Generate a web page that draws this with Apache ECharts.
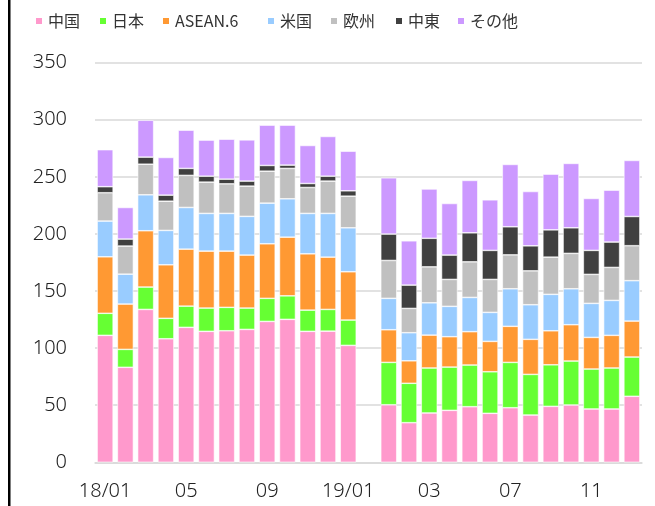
<!DOCTYPE html>
<html><head><meta charset="utf-8">
<script src="https://cdn.jsdelivr.net/npm/echarts@6/dist/echarts.min.js"></script>
<style>html,body{margin:0;padding:0;background:#fff}#c{width:655px;height:506px}</style>
</head><body><div id="c"></div>
<script>
const categories = ['18/01','02','03','04','05','06','07','08','09','10','11','12','19/01','',
  '01','02','03','04','05','06','07','08','09','10','11','12','01'];
const seriesNames = ['中国','日本','ASEAN.6','米国','欧州','中東','その他'];
const china  = [111.2,83.2,133.9,108.2,118.2,114.7,115.2,116.4,123.4,125.2,114.7,114.9,102.4,null,50.4,34.7,43.2,45.5,48.7,42.9,47.8,41.4,49.0,50.2,46.7,46.7,57.8];
const japan  = [19.3,15.7,19.6,17.9,18.6,20.4,20.5,18.7,20.2,20.6,18.6,19.0,22.2,null,37.1,34.5,39.4,37.9,36.5,36.4,39.7,35.6,36.4,38.5,35.0,35.9,34.4];
const asean6 = [49.5,39.7,49.3,46.9,49.9,49.9,49.3,46.4,47.8,51.4,49.3,45.8,42.3,null,28.6,19.7,28.8,26.6,29.2,26.6,31.6,30.7,29.8,31.8,27.7,28.6,31.5];
const usa    = [31.3,26.2,31.5,30.1,36.5,33.0,33.0,33.9,35.6,33.6,35.4,38.3,38.5,null,27.5,24.6,28.3,26.6,30.0,25.4,32.9,30.3,31.9,31.5,29.8,30.6,35.4];
const europe = [24.8,24.6,26.8,25.6,28.1,27.4,25.9,26.5,28.0,26.6,22.7,28.3,27.7,null,33.2,21.3,31.5,23.6,31.2,28.9,29.7,29.7,32.6,31.0,25.4,28.9,30.6];
const mideast= [5.3,6.1,6.2,5.3,6.1,5.2,4.1,4.4,5.0,2.9,3.5,4.3,4.7,null,23.1,20.4,25.0,21.3,25.4,25.4,24.6,21.9,23.9,22.4,21.0,22.2,25.6];
const others = [32.4,27.7,32.3,33.0,33.5,31.6,35.0,36.1,35.3,35.0,33.3,34.8,34.7,null,49.3,38.8,43.2,45.2,45.9,44.3,54.6,47.6,48.8,56.4,45.5,45.5,49.1];
const yTicks = [0,50,100,150,200,250,300,350];

const colors = ['#FF99CC','#66FF33','#FF9933','#99CCFF','#C0C0C0','#404040','#CC99FF'];
const values = [china,japan,asean6,usa,europe,mideast,others];
const legendX = [34,98,161,266,329,394,456];
const font = '"Noto Sans CJK JP","Noto Sans",sans-serif';
const numFont = '"Noto Sans","Noto Sans CJK JP",sans-serif';

const chart = echarts.init(document.getElementById('c'), null, {renderer:'canvas'});
chart.setOption({
  animation:false,
  backgroundColor:'#fff',
  color: colors,
  legend: seriesNames.map((n,i)=>({
    data:[n], left: legendX[i], top: 13, padding:0, itemWidth:8, itemHeight:8, itemGap:5,
    icon:'rect', textStyle:{fontFamily:font, fontSize:16, color:'#333'}, selectedMode:false
  })),
  grid:{left:95, right:13, top:62.7, bottom:43.7, containLabel:false},
  xAxis:{type:'category', data:categories,
    axisLine:{show:true, lineStyle:{color:'#D9D9D9', width:1.5}},
    axisTick:{show:false},
    axisLabel:{interval:3, margin:19, fontFamily:numFont, fontSize:20, fontWeight:300, color:'#222'}},
  yAxis:{type:'value', min:yTicks[0], max:yTicks[yTicks.length-1], interval:50,
    axisLine:{show:false}, axisTick:{show:false},
    splitLine:{lineStyle:{color:'#D9D9D9', width:1.5}},
    axisLabel:{margin:28, fontFamily:numFont, fontSize:20, fontWeight:300, color:'#222'}},
  graphic:[{type:'rect', left:8, top:0, shape:{width:2.5, height:506}, style:{fill:'#000'}}],
  series: seriesNames.map((n,i)=>({
    name:n, type:'bar', stack:'total', data:values[i], barCategoryGap:'21%',
    itemStyle:{color:colors[i], borderColor:'#fff', borderWidth:0.6}
  }))
});
</script></body></html>
